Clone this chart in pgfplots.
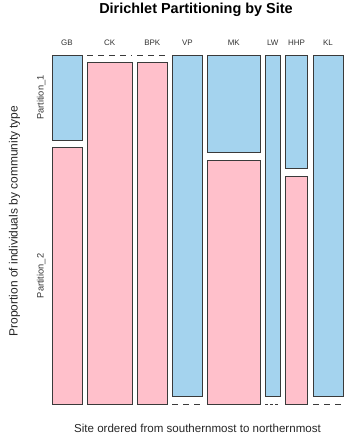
\documentclass[border=0pt]{standalone}
\usepackage{pgfplots}
\pgfplotsset{compat=1.18}
\usepackage{fontspec}
\setmainfont{Liberation Sans}
\definecolor{pinkc}{HTML}{FFC0CB}
\definecolor{bluec}{HTML}{A4D3EE}
\definecolor{edgec}{HTML}{3A3A3A}
\begin{document}
\begin{tikzpicture}[x=1bp,y=1bp]
\useasboundingbox (0,0) rectangle (354,440);
\begin{axis}[
  at={(52bp,36bp)}, anchor=south west,
  scale only axis, width=291bp, height=349bp,
  xmin=0, xmax=38.8, ymin=0, ymax=1,
  axis lines=none, clip=false,
  every axis plot/.append style={draw=edgec, line width=0.8bp},
]
% Site widths proportional to counts (GB 4, CK 6, BPK 4, VP 4, MK 7, LW 2, HHP 3, KL 4), gap 0.686
% Partition_2 (pink, bottom) / Partition_1 (blue, top), cell gap 0.0215
% GB: p1 = 0.25
\addplot[fill=pinkc] coordinates {(0,0) (4,0) (4,0.7339) (0,0.7339)} -- cycle;
\addplot[fill=bluec] coordinates {(0,0.7554) (4,0.7554) (4,1) (0,1)} -- cycle;
% CK: p1 = 0
\addplot[fill=pinkc] coordinates {(4.686,0) (10.686,0) (10.686,0.9785) (4.686,0.9785)} -- cycle;
\addplot[dash pattern=on 6bp off 5bp] coordinates {(4.686,1) (10.686,1)};
% BPK: p1 = 0
\addplot[fill=pinkc] coordinates {(11.371,0) (15.371,0) (15.371,0.9785) (11.371,0.9785)} -- cycle;
\addplot[dash pattern=on 6bp off 5bp] coordinates {(11.371,1) (15.371,1)};
% VP: p1 = 1
\addplot[dash pattern=on 6bp off 5bp] coordinates {(16.057,0) (20.057,0)};
\addplot[fill=bluec] coordinates {(16.057,0.0215) (20.057,0.0215) (20.057,1) (16.057,1)} -- cycle;
% MK: p1 = 2/7
\addplot[fill=pinkc] coordinates {(20.743,0) (27.743,0) (27.743,0.6989) (20.743,0.6989)} -- cycle;
\addplot[fill=bluec] coordinates {(20.743,0.7204) (27.743,0.7204) (27.743,1) (20.743,1)} -- cycle;
% LW: p1 = 1
\addplot[dash pattern=on 3bp off 2bp] coordinates {(28.429,0) (30.429,0)};
\addplot[fill=bluec] coordinates {(28.429,0.0215) (30.429,0.0215) (30.429,1) (28.429,1)} -- cycle;
% HHP: p1 = 1/3
\addplot[fill=pinkc] coordinates {(31.114,0) (34.114,0) (34.114,0.6523) (31.114,0.6523)} -- cycle;
\addplot[fill=bluec] coordinates {(31.114,0.6738) (34.114,0.6738) (34.114,1) (31.114,1)} -- cycle;
% KL: p1 = 1
\addplot[dash pattern=on 6bp off 5bp] coordinates {(34.8,0) (38.8,0)};
\addplot[fill=bluec] coordinates {(34.8,0.0215) (38.8,0.0215) (38.8,1) (34.8,1)} -- cycle;
% site labels
\foreach \xx/\lab in {2/GB, 7.686/CK, 13.371/BPK, 18.057/VP, 24.243/MK, 29.429/LW, 32.614/HHP, 36.8/KL}{
  \edef\tmp{\noexpand\node[anchor=base, font=\noexpand\fontsize{8}{9}\noexpand\selectfont, text=black!80] at (axis cs:\xx,1) [yshift=9.5bp] {\lab};}
  \tmp
}
\node[xshift=-8.5bp, anchor=base, rotate=90, font=\fontsize{9.3}{10}\selectfont, text=black!80] at (axis cs:0,0.8777) {Partition\_1};
\node[xshift=-8.5bp, anchor=base, rotate=90, font=\fontsize{9.3}{10}\selectfont, text=black!80] at (axis cs:0,0.367) {Partition\_2};
\end{axis}
\node[anchor=base, font=\bfseries\fontsize{14.5}{16}\selectfont] at (196,426.5) {Dirichlet Partitioning by Site};
\node[anchor=base, font=\fontsize{11.6}{13}\selectfont, text=black!85] at (197.5,7.5) {Site ordered from southernmost to northernmost};
\node[anchor=base, rotate=90, font=\fontsize{12}{14}\selectfont, text=black!85] at (17.5,219) {Proportion of individuals by community type};
\end{tikzpicture}
\end{document}
